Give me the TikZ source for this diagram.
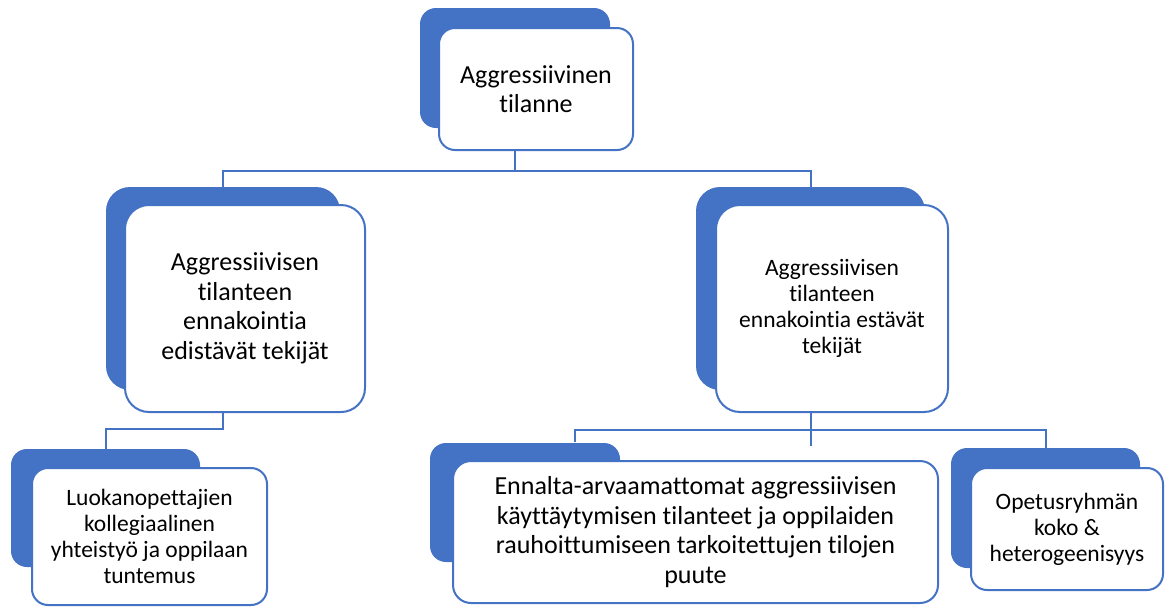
\documentclass[tikz,border=0pt]{standalone}
\usepackage{fontspec}
\setmainfont{Carlito}[Ligatures=NoCommon]
\definecolor{accent}{HTML}{4472C4}
\tikzset{
  back/.style={fill=accent, draw=none, rounded corners=#1, inner sep=0pt},
  front/.style={fill=white, draw=accent, line width=2pt, rounded corners=#1,
    align=center, inner sep=0pt, text=black},
  link/.style={draw=accent, line width=2pt},
  big/.style={font=\fontsize{26}{29.5}\selectfont},
  small/.style={font=\fontsize{23.5}{26}\selectfont}
}
\begin{document}
\begin{tikzpicture}[x=1pt,y=-1pt]
\useasboundingbox (0,0) rectangle (1165,606);

% top level
\node[back=16pt, minimum width=190pt, minimum height=120pt] (topb) at (515,68) {};
\node[front=16pt, big, minimum width=194pt, minimum height=122pt] (topf) at (536,89)
  {Aggressiivinen\\tilanne};

% second level
\node[back=24pt, minimum width=234pt, minimum height=203pt] (l2lb) at (223,288.5) {};
\node[front=24pt, big, minimum width=240pt, minimum height=207pt] (l2lf) at (245,308.5)
  {Aggressiivisen\\tilanteen\\ennakointia\\edistävät tekijät};

\node[back=24pt, minimum width=229pt, minimum height=203pt] (l2rb) at (810.5,288.5) {};
\node[front=24pt, small, minimum width=232pt, minimum height=207pt] (l2rf) at (832,308.5)
  {Aggressiivisen\\tilanteen\\ennakointia estävät\\tekijät};

% third level
\node[back=16pt, minimum width=189pt, minimum height=118pt] (l3lb) at (105.5,508) {};
\node[front=16pt, small, minimum width=235pt, minimum height=137pt] (l3lf) at (149.5,536.5)
  {Luokanopettajien\\kollegiaalinen\\yhteistyö ja oppilaan\\tuntemus};

\node[back=16pt, minimum width=190pt, minimum height=119pt] (l3mb) at (525,502.5) {};
\node[front=18pt, big, minimum width=485pt, minimum height=142pt] (l3mf) at (695.5,532)
  {Ennalta-arvaamattomat aggressiivisen\\käyttäytymisen tilanteet ja oppilaiden\\rauhoittumiseen tarkoitettujen tilojen\\puute};

\node[back=16pt, minimum width=189pt, minimum height=120pt] (l3rb) at (1045.5,508) {};
\node[front=16pt, small, minimum width=192pt, minimum height=122pt] (l3rf) at (1067,529)
  {Opetusryhmän\\koko \&\\heterogeenisyys};

% connectors
\draw[link] (topb.south |- topf.south) -- ++(0,20) -| (l2lb.north);
\draw[link] (topb.south |- topf.south) ++(0,20) -| (l2rb.north);
\draw[link] (l2lb.south |- l2lf.south) -- ++(0,16) -| (l3lb.north);

\coordinate (bus) at (810.5,430);
\coordinate (tapA) at (575,442);
\coordinate (tapB) at (810.5,446);
\draw[link] (l2rb.south |- l2rf.south) -- (tapB);
\draw[link] (tapA) |- (bus) -| (l3rb.north);
\end{tikzpicture}
\end{document}
